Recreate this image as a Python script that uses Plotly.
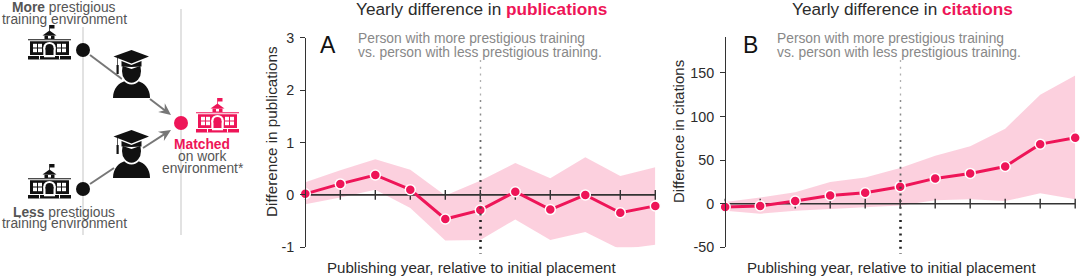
import plotly.graph_objects as go
import math

W, H = 1080, 278
PINK = "#ee1558"
DARK = "#2b2b2b"
FONT = "Liberation Sans"

# ---- data ----
years = [0, 1, 2, 3, 4, 5, 6, 7, 8, 9, 10]
pub_mean = [0.02, 0.21, 0.38, 0.10, -0.46, -0.29, 0.06, -0.28, 0.0, -0.34, -0.21]
pub_upper = [0.24, 0.47, 0.68, 0.48, -0.01, 0.27, 0.61, 0.32, 0.72, 0.36, 0.53]
pub_lower = [-0.18, -0.05, 0.10, -0.25, -0.87, -0.86, -0.47, -0.86, -0.71, -1.04, -0.95]
cit_mean = [-3.8, -2.7, 3, 9.5, 12.6, 19.5, 29, 34.7, 42.7, 68.3, 75.6]
cit_upper = [2, 7, 13, 25, 30, 41, 55, 66, 86, 125, 147]
cit_lower = [-8, -11.5, -8, -6, -4, -2, 4, 5, 3, 12, 5]
zero_line = [0, 0, 0, 0, 0, 0, 0, 0, 0, 0, 0]
pub_ticks = [-1, 0, 1, 2, 3]
cit_ticks = [-50, 0, 50, 100, 150]
xlabel = "Publishing year, relative to initial placement"
note = ["Person with more prestigious training", "vs. person with less prestigious training."]


def px(x):
    return x / W


def py(y):
    return 1 - y / H


shapes = []
annots = []


def pth(d, color, width=0, fill=True):
    s = dict(type="path", path=d, xref="paper", yref="paper",
             line=dict(color=color, width=width))
    if fill:
        s["fillcolor"] = color
    shapes.append(s)


def poly(points, color):
    d = "M" + " L".join(f"{px(a):.5f},{py(b):.5f}" for a, b in points) + " Z"
    pth(d, color)


def rect(x0, y0, x1, y1, color):
    poly([(x0, y0), (x1, y0), (x1, y1), (x0, y1)], color)


def line(x0, y0, x1, y1, color, width, dash=None):
    ln = dict(color=color, width=width)
    if dash:
        ln["dash"] = dash
    shapes.append(dict(type="line", xref="paper", yref="paper", x0=px(x0), y0=py(y0),
                       x1=px(x1), y1=py(y1), line=ln))


def ellipse(cx, cy, rx, ry, color):
    shapes.append(dict(type="circle", xref="paper", yref="paper", x0=px(cx - rx), x1=px(cx + rx),
                       y0=py(cy + ry), y1=py(cy - ry), fillcolor=color, line=dict(width=0)))


def text(x, y, t, size, color, anchor="center", angle=0):
    annots.append(dict(x=px(x), y=py(y), xref="paper", yref="paper", text=t, showarrow=False,
                       xanchor=anchor, yanchor="middle", textangle=angle,
                       font=dict(size=size, color=color, family=FONT)))


def school(x0, y0, c):
    R = lambda a, b, d, e, col=c: rect(x0 + a, y0 + b, x0 + d, y0 + e, col)
    R(21.2, 0, 21.9, 6)
    R(21.5, 0, 26.5, 3.5)
    poly([(x0 + 14.5, y0 + 10.5), (x0 + 21.5, y0 + 5.5), (x0 + 28.5, y0 + 10.5)], c)
    R(16.5, 10.5, 26.5, 14)
    R(20, 11, 23, 13.5, "white")
    R(0, 14.2, 43, 15.2)
    R(2, 16.2, 41, 30)
    for wx in (5, 29):
        for a, b in ((0, 0), (5, 0), (0, 4.7), (5, 4.7)):
            R(wx + a, 18.8 + b, wx + a + 4, 18.8 + b + 3.7, "white")
    ellipse(x0 + 21.5, y0 + 22.5, 6.2, 5.5, "white")
    R(15.3, 22.5, 27.7, 30, "white")
    ellipse(x0 + 21.5, y0 + 23, 4, 4, c)
    R(17.5, 23, 25.5, 30, c)
    R(0, 31, 43, 34.5)
    R(11, 30, 12, 34.5, "white")
    R(31, 30, 32, 34.5, "white")
    R(16, 31, 27, 32.3, "white")


def graduate(x0, y0):
    c = "#111111"
    X = lambda a: px(x0 + a)
    Y = lambda b: py(y0 + b)
    rect(x0 + 4.2, y0 + 7, x0 + 4.9, y0 + 16, c)
    rect(x0 + 3.5, y0 + 15, x0 + 5.7, y0 + 24, c)
    d = (f"M{X(0)},{Y(48)} C{X(0)},{Y(38)} {X(6)},{Y(33)} {X(12)},{Y(31)} "
         f"L{X(25)},{Y(31)} C{X(31)},{Y(33)} {X(37)},{Y(38)} {X(37)},{Y(48)} Z")
    pth(d, c)
    ellipse(x0 + 18.5, y0 + 21, 11.2, 13.5, "white")
    ellipse(x0 + 18.5, y0 + 21, 9.5, 11.8, c)
    poly([(x0 + 7, y0 + 8), (x0 + 30, y0 + 8), (x0 + 30, y0 + 15), (x0 + 18.5, y0 + 19), (x0 + 7, y0 + 15)], "white")
    poly([(x0 + 8.5, y0 + 11), (x0 + 18.5, y0 + 15), (x0 + 28.5, y0 + 11), (x0 + 28.5, y0 + 16.5),
          (x0 + 18.5, y0 + 17), (x0 + 8.5, y0 + 16.5)], c)
    poly([(x0 + 0.5, y0 + 6.5), (x0 + 18.5, y0), (x0 + 36, y0 + 6.5), (x0 + 18.5, y0 + 13.5)], c)


def arrow(x0, y0, x1, y1):
    grey = "#777777"
    ang = math.atan2(y1 - y0, x1 - x0)
    ux, uy = math.cos(ang), math.sin(ang)
    line(x0, y0, x1 - 5 * ux, y1 - 5 * uy, grey, 2)
    L, W2, N = 12, 5.5, 8
    poly([(x1, y1), (x1 - L * ux - W2 * uy, y1 - L * uy + W2 * ux), (x1 - N * ux, y1 - N * uy),
          (x1 - L * ux + W2 * uy, y1 - L * uy - W2 * ux)], grey)


# ---- left schematic ----
line(83, 27, 83, 235, "#d9d9d9", 1.5)
line(181, 9, 181, 235, "#d9d9d9", 1.5)
line(90, 55, 122, 79, "#777777", 2)
line(90, 184, 114, 168, "#777777", 2)
arrow(150, 99, 171, 115)
arrow(143, 148, 171, 130)
school(28, 25, "#111111")
school(28, 164, "#111111")
school(196, 98, PINK)
ellipse(83, 50, 7, 7, "#111111")
ellipse(83, 189, 7, 7, "#111111")
ellipse(181, 123, 7, 7, PINK)
graduate(113, 50)
graduate(113, 130)

G = "#555555"
text(64, 7.5, "<b>More</b> prestigious", 13.8, G)
text(64, 19, "training environment", 13.8, G)
text(64, 212, "<b>Less</b> prestigious", 13.8, G)
text(64, 223.5, "training environment", 13.8, G)
text(201.5, 144.5, "<b>Matched</b>", 13.8, PINK)
text(201.5, 156.5, "on work", 13.8, G)
text(203, 168.5, "environment*", 13.8, G)

# ---- panel text ----
text(481.5, 9, f"Yearly difference in <b><span style='color:{PINK}'>publications</span></b>", 17.2, DARK)
text(902, 9, f"Yearly difference in <b><span style='color:{PINK}'>citations</span></b>", 17.2, DARK)
text(328, 45, "A", 23, "#111111")
text(750, 45, "B", 23, "#111111")
for xn in (356, 775):
    text(xn, 38.5, note[0], 13.8, "#888888", "left")
    text(xn, 52.5, note[1], 13.8, "#888888", "left")
text(471, 267, xlabel, 15.1, DARK)
text(891, 267, xlabel, 15.1, DARK)
text(272, 132, "Difference in publications", 15.3, DARK, angle=-90)
text(679, 132, "Difference in citations", 15, DARK, angle=-90)

# fading dotted reference lines
for xv in (480.5, 900.5):
    steps = [(60, 100, "#b0b0b0", 1.3), (100, 140, "#8c8c8c", 1.5), (140, 180, "#666666", 1.8),
             (180, 220, "#444444", 2.2), (220, 254, "#222222", 2.6)]
    for a, b, col, w in steps:
        line(xv, a, xv, b, col, w, dash="2px,4.7px")

fig = go.Figure()


def panel(xs, mean, upper, lower, xa, ya):
    fig.add_trace(go.Scatter(x=xs, y=upper, mode="lines", line=dict(width=0), xaxis=xa, yaxis=ya,
                             showlegend=False, hoverinfo="skip"))
    fig.add_trace(go.Scatter(x=xs, y=lower, mode="lines", line=dict(width=0), fill="tonexty",
                             fillcolor="rgba(238,21,88,0.2)", xaxis=xa, yaxis=ya,
                             showlegend=False, hoverinfo="skip"))
    fig.add_trace(go.Scatter(x=xs, y=zero_line, mode="lines+markers", xaxis=xa, yaxis=ya, showlegend=False,
                             cliponaxis=False, hoverinfo="skip", line=dict(color="#333333", width=1.6),
                             marker=dict(symbol="line-ns", size=7, line=dict(color="#333333", width=1.4))))
    fig.add_trace(go.Scatter(x=xs, y=mean, mode="lines+markers", xaxis=xa, yaxis=ya, showlegend=False,
                             cliponaxis=False,
                             line=dict(color=PINK, width=3),
                             marker=dict(color=PINK, size=10, line=dict(color="white", width=1.5))))


panel(years, pub_mean, pub_upper, pub_lower, "x", "y")
panel(years, cit_mean, cit_upper, cit_lower, "x2", "y2")

fonts = dict(size=14.3, color=DARK, family=FONT)


def yaxis(rng, ticks, xpos, top, bottom):
    return dict(range=rng, tickvals=ticks, ticktext=[str(t) for t in ticks], anchor="free",
                position=px(xpos), domain=[py(bottom), py(top)], showgrid=False, zeroline=False,
                showline=True, linecolor="#333333", linewidth=1.3, ticks="outside", ticklen=5,
                tickcolor="#333333", tickwidth=1.3, tickfont=fonts, ticklabelstandoff=3)


def xaxis(x0, x1, yname):
    return dict(range=[0, 10], domain=[px(x0), px(x1)], anchor=yname, visible=False)


fig.update_layout(
    width=W, height=H, autosize=False, margin=dict(l=0, r=0, t=0, b=0, autoexpand=False),
    plot_bgcolor="white", paper_bgcolor="white", showlegend=False,
    font=dict(family=FONT),
    xaxis=xaxis(305.3, 655.3, "y"),
    xaxis2=xaxis(725.2, 1075.2, "y2"),
    yaxis=yaxis([-1, 3], pub_ticks, 305.3, 37.7, 247.3),
    yaxis2=yaxis([-50, 191.5], cit_ticks, 725.2, 36.7, 247.3),
    shapes=shapes, annotations=annots,
)
fig.write_html("out.html", config=dict(displayModeBar=False),
               post_script="document.body.style.margin='0';document.body.style.overflow='hidden';")
